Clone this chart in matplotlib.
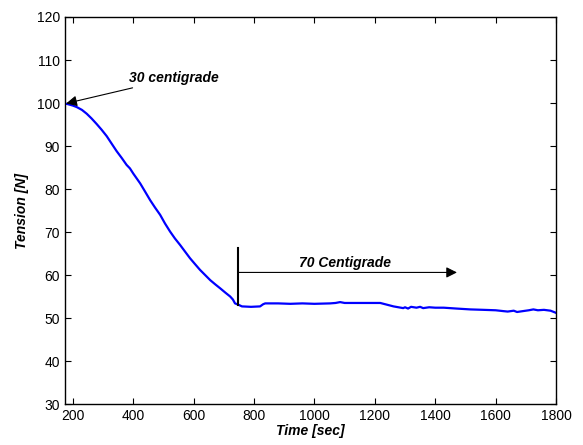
import matplotlib
matplotlib.use("Agg")
import matplotlib.pyplot as plt

time_sec = [174, 180, 200, 213, 230, 246, 262, 279, 295, 312, 328, 345, 362, 378, 389,
            400, 423, 440, 456, 472, 489, 505, 522, 538, 555, 572, 588, 605, 621, 638,
            655, 672, 688, 705, 721, 730, 737, 748, 760, 790, 820, 830, 837, 880, 920,
            960, 1000, 1052, 1070, 1085, 1100, 1150, 1218, 1240, 1262, 1294, 1300,
            1310, 1320, 1338, 1350, 1360, 1380, 1400, 1428, 1470, 1516, 1560, 1600,
            1626, 1640, 1660, 1671, 1690, 1710, 1725, 1740, 1760, 1782, 1800]
tension = [99.8, 99.8, 99.4, 99.05, 98.4, 97.5, 96.4, 95.1, 93.8, 92.3, 90.6, 88.8, 87.2,
           85.6, 84.8, 83.6, 81.3, 79.3, 77.4, 75.7, 74.0, 72.0, 70.1, 68.5, 67.0, 65.4,
           63.9, 62.5, 61.2, 60.0, 58.8, 57.8, 56.9, 55.9, 55.0, 54.3, 53.4, 53.1, 52.7,
           52.6, 52.7, 53.2, 53.4, 53.4, 53.3, 53.4, 53.3, 53.4, 53.5, 53.7, 53.5,
           53.5, 53.5, 53.1, 52.7, 52.3, 52.5, 52.2, 52.6, 52.4, 52.6, 52.3, 52.5,
           52.4, 52.4, 52.2, 52.0, 51.9, 51.8, 51.6, 51.5, 51.7, 51.4, 51.6, 51.8,
           52.0, 51.8, 51.9, 51.7, 51.2]

x_ticks = [200, 400, 600, 800, 1000, 1200, 1400, 1600, 1800]
y_ticks = [30, 40, 50, 60, 70, 80, 90, 100, 110, 120]

plt.rcParams['font.family'] = ['Liberation Sans', 'DejaVu Sans']

fig = plt.figure(figsize=(5.83, 4.45), dpi=100)
ax = fig.add_axes([0.1115, 0.0921, 0.8422, 0.8697])

ax.plot(time_sec, tension, color='#0000ff', linewidth=1.6)

ax.set_xlim(174, 1800)
ax.set_ylim(30, 120)
ax.set_xticks(x_ticks)
ax.set_yticks(y_ticks)
ax.tick_params(direction='in', top=True, right=True, length=4, labelsize=10, width=0.8)
for s in ax.spines.values():
    s.set_linewidth(1.0)

ax.set_xlabel('Time [sec]', fontsize=10, fontweight='bold', fontstyle='italic', labelpad=1)
ax.set_ylabel('Tension [N]', fontsize=10, fontweight='bold', fontstyle='italic', labelpad=6)

# heating step marker
ax.plot([748, 748], [53.0, 66.2], color='black', linewidth=1.5)
ax.annotate('', xy=(1472, 60.6), xytext=(748, 60.6),
            arrowprops=dict(arrowstyle='-|>', color='black', lw=0.8,
                            mutation_scale=16, shrinkA=0, shrinkB=0))
ax.text(1100, 62.9, '70 Centigrade', fontsize=10, fontweight='bold',
        fontstyle='italic', ha='center', va='center')

ax.annotate('30 centigrade', xy=(178, 99.9), xytext=(387, 105.8),
            fontsize=10, fontweight='bold', fontstyle='italic', va='center',
            arrowprops=dict(arrowstyle='-|>', color='black', lw=0.8,
                            mutation_scale=16, shrinkA=0, shrinkB=0))

fig.savefig('out.png', dpi=100)
